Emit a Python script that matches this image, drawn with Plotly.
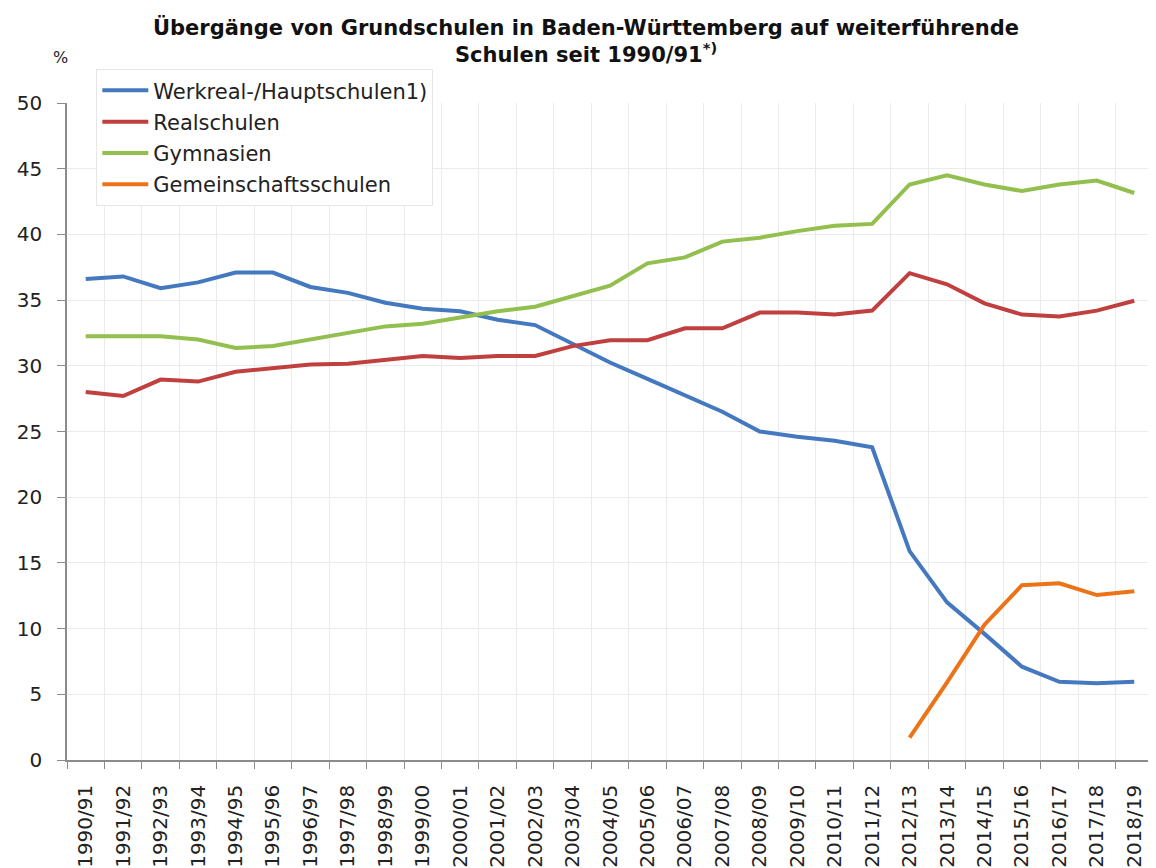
import plotly.graph_objects as go

years = ["1990/91", "1991/92", "1992/93", "1993/94", "1994/95", "1995/96", "1996/97",
         "1997/98", "1998/99", "1999/00", "2000/01", "2001/02", "2002/03", "2003/04",
         "2004/05", "2005/06", "2006/07", "2007/08", "2008/09", "2009/10", "2010/11",
         "2011/12", "2012/13", "2013/14", "2014/15", "2015/16", "2016/17", "2017/18",
         "2018/19"]

werkreal = [36.6, 36.8, 35.9, 36.35, 37.1, 37.1, 36.0, 35.55, 34.8, 34.35, 34.15, 33.5,
            33.1, 31.7, 30.25, 29.0, 27.75, 26.5, 25.0, 24.6, 24.3, 23.8, 15.9, 12.0,
            9.6, 7.1, 5.95, 5.85, 5.95]
realschulen = [28.0, 27.7, 28.95, 28.8, 29.55, 29.85, 30.1, 30.15, 30.45, 30.75, 30.6,
               30.75, 30.75, 31.5, 31.95, 31.95, 32.85, 32.85, 34.05, 34.05, 33.9, 34.2,
               37.05, 36.2, 34.75, 33.9, 33.75, 34.2, 34.95]
gymnasien = [32.25, 32.25, 32.25, 32.0, 31.35, 31.5, 32.0, 32.55, 33.0, 33.2, 33.7,
             34.15, 34.5, 35.3, 36.1, 37.8, 38.25, 39.45, 39.75, 40.25, 40.65, 40.8,
             43.8, 44.5, 43.8, 43.3, 43.8, 44.1, 43.15]
gemeinschaft = [None] * 22 + [1.7, 5.9, 10.3, 13.3, 13.45, 12.55, 12.85]

series_names = ["Werkreal-/Hauptschulen1)", "Realschulen", "Gymnasien", "Gemeinschaftsschulen"]
series_values = [werkreal, realschulen, gymnasien, gemeinschaft]
series_colors = ["#4479c0", "#c0403f", "#93bf4e", "#ec7318"]

title_text = ("<b>Übergänge von Grundschulen in Baden-Württemberg auf weiterführende<br>"
              "Schulen seit 1990/91<sup>*)</sup></b>")

fig = go.Figure()
for i, (name, vals, col) in enumerate(zip(series_names, series_values, series_colors)):
    fig.add_trace(go.Scatter(
        x=years, y=vals, name=name, mode="lines",
        line=dict(color=col, width=4),
        legendgroup=f"g{i}",
        connectgaps=False,
    ))

fig.update_layout(
    width=1156, height=868,
    margin=dict(l=59, r=11, t=95, b=116, autoexpand=False),
    paper_bgcolor="white", plot_bgcolor="white",
    font=dict(family="DejaVu Sans", color="#222222", size=19),
    title=dict(text=title_text, x=0.5, xanchor="center", xref="container",
               y=0.969, yanchor="top", yref="container",
               font=dict(family="DejaVu Sans", size=21, color="#111111")),
    showlegend=True,
    legend=dict(x=0.027, y=0.9295, xanchor="left", yanchor="top",
                xref="paper", yref="container",
                bgcolor="white", bordercolor="#e6e6e6", borderwidth=1,
                font=dict(size=21, color="#222222"), tracegroupgap=1,
                itemwidth=46),
    xaxis=dict(type="category", tickson="boundaries", ticks="outside", ticklen=7,
               tickcolor="#8c8c8c", showline=True, linecolor="#8c8c8c", linewidth=1.5,
               showgrid=True, gridcolor="#ebebeb", gridwidth=1,
               tickangle=-90, tickfont=dict(size=20), ticklabelstandoff=15,
               range=[-0.5, 28.5]),
    yaxis=dict(range=[0, 50], dtick=5, ticks="outside", ticklen=8, tickcolor="#8c8c8c",
               showline=True, linecolor="#8c8c8c", linewidth=1.5,
               showgrid=True, gridcolor="#ebebeb", gridwidth=1, zeroline=False,
               tickfont=dict(size=20), ticklabelstandoff=11),
)

fig.add_annotation(text="%", xref="paper", yref="paper", x=-0.006, y=1.0685,
                   xanchor="center", yanchor="middle", showarrow=False,
                   font=dict(size=16, color="#222222"))

fig.write_html("out.html")
